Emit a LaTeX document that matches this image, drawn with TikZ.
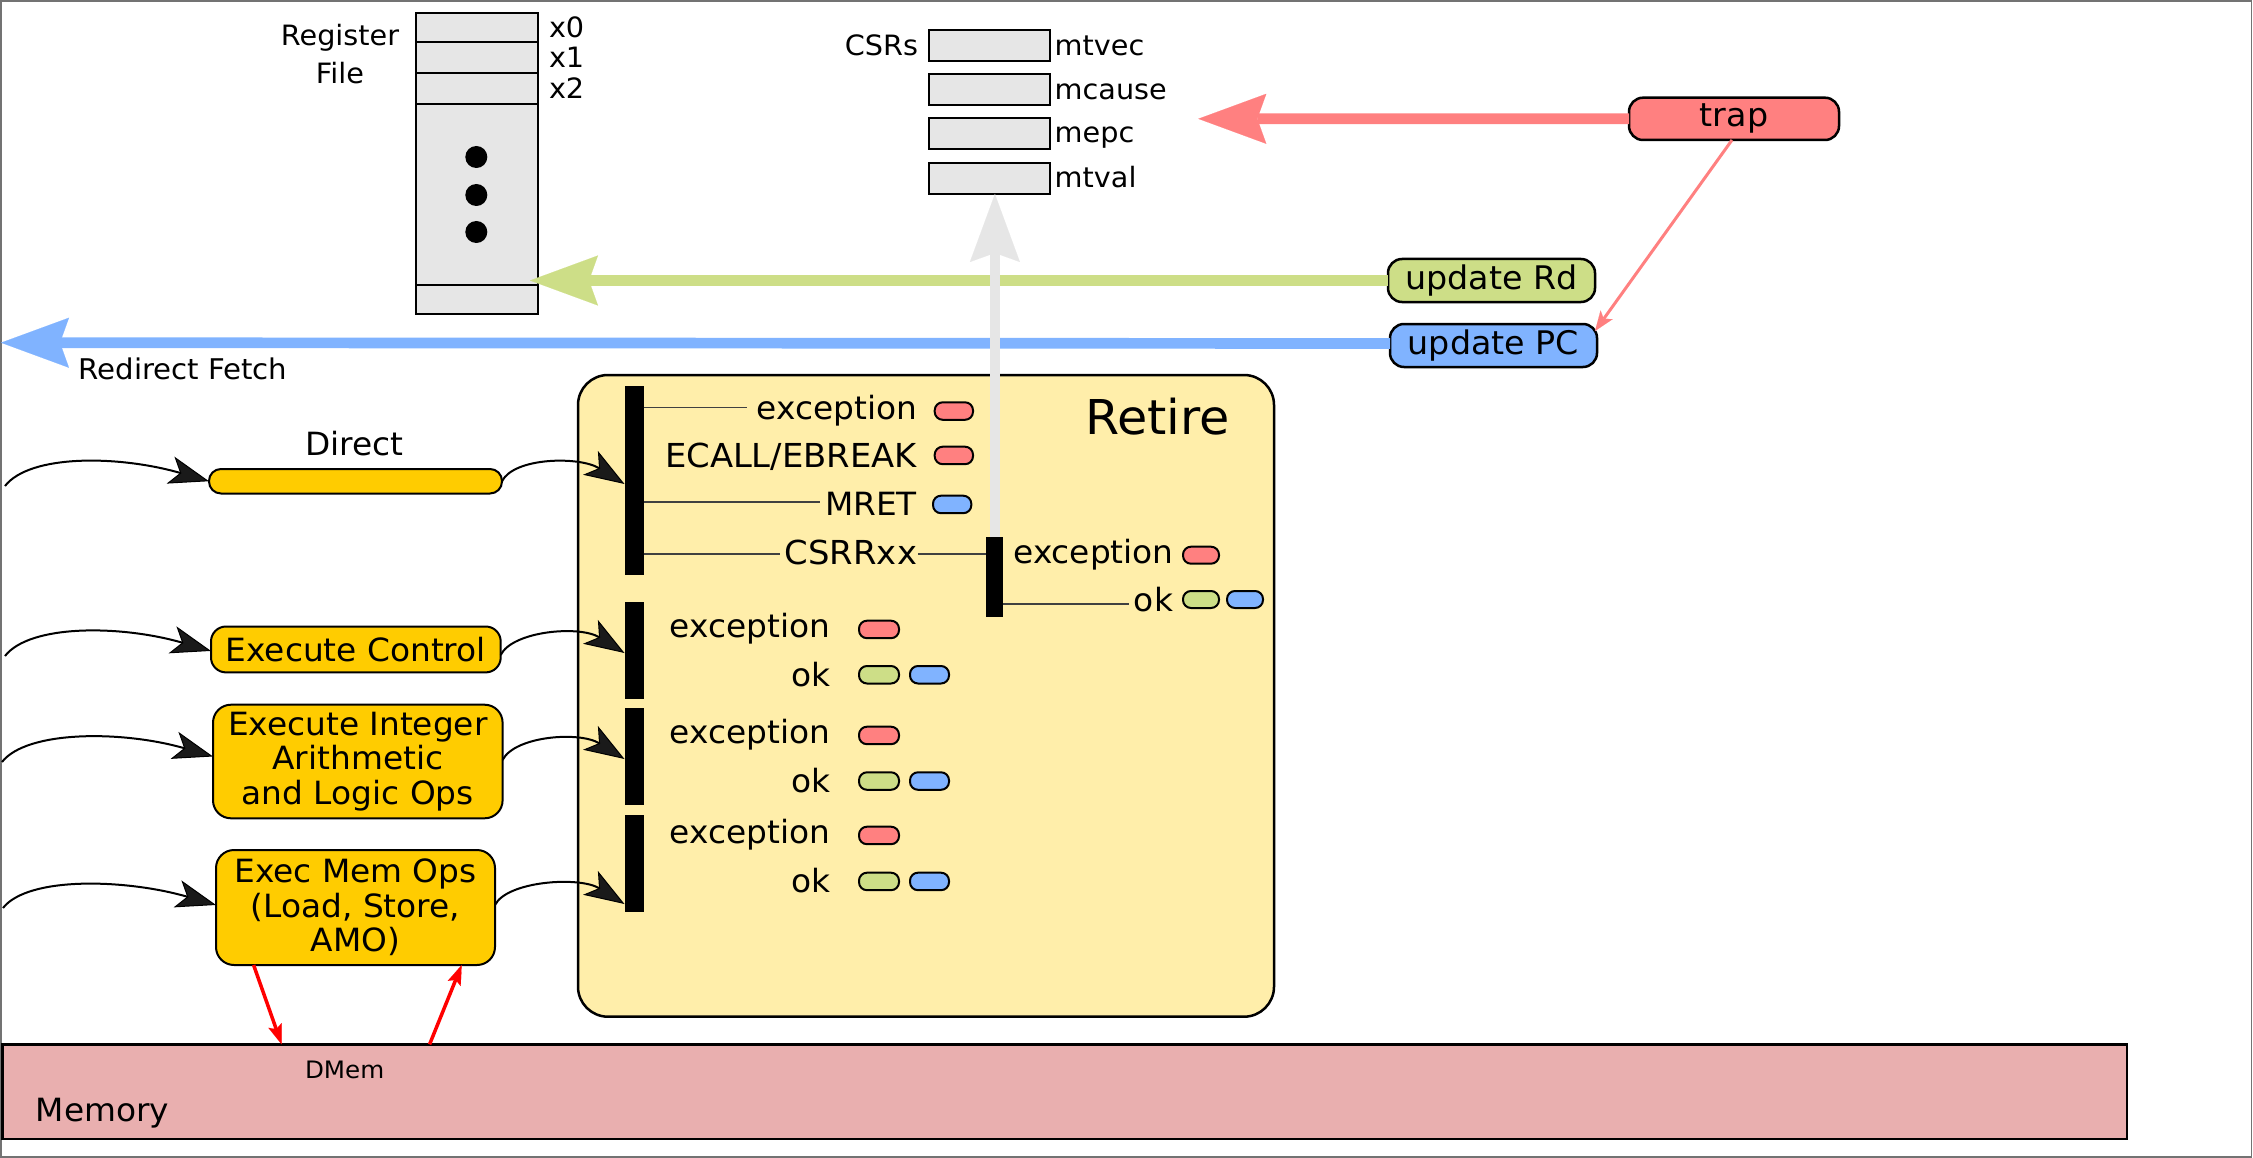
\documentclass[tikz,border=0pt]{standalone}
\usepackage{fontspec}
\setmainfont{DejaVu Sans}[FakeStretch=1.025]
\usetikzlibrary{arrows.meta,calc}
\definecolor{cred}{HTML}{FF8080}
\definecolor{cgreen}{HTML}{CDDE87}
\definecolor{cblue}{HTML}{80B3FF}
\definecolor{cyellow}{HTML}{FFCC00}
\definecolor{cretire}{HTML}{FFEEAA}
\definecolor{cmem}{HTML}{E9AFAF}
\definecolor{cgray}{HTML}{E6E6E6}
\definecolor{cdark}{HTML}{1A1A1A}
\begin{document}
\begin{tikzpicture}[x=1pt,y=-1pt,
  box/.style={draw=black, line width=2pt, inner sep=0pt, outer sep=0pt, anchor=north west},
  regbox/.style={box, fill=cgray},
  pill/.style={box, rounded corners=8pt, minimum width=39pt, minimum height=17.5pt},
  redpill/.style={pill, fill=cred},
  greenpill/.style={pill, fill=cgreen},
  bluepill/.style={pill, fill=cblue},
  ybox/.style={box, fill=cyellow, rounded corners=18pt, align=center, font=\fontsize{32}{34.5}\selectfont},
  tag/.style={box, rounded corners=14pt, line width=2.5pt, font=\fontsize{32.5}{38}\selectfont},
  bar/.style={fill=black, draw=none, inner sep=0pt, outer sep=0pt, anchor=north west},
  lbl/.style={inner sep=0pt, outer sep=0pt, font=\fontsize{32}{38}\selectfont},
  small/.style={inner sep=0pt, outer sep=0pt, font=\fontsize{28}{37.5}\selectfont},
  bigarrow/.style={line width=10.7pt, -{Stealth[length=68pt,width=50pt,inset=9pt,line width=0.1pt]}},
  curvearrow/.style={draw=black, line width=2pt, -{Stealth[length=40pt,width=28pt,inset=10pt,line width=1pt,fill=cdark]}},
  thinline/.style={draw=black!75, line width=1.5pt},
  memarrow/.style={draw=red, line width=3.5pt, -{Stealth[length=20pt,width=14pt,inset=4pt,line width=0.1pt]}}
]
\useasboundingbox (0,0) rectangle (2253,1158);
\draw[black!55, line width=1.5pt] (1,1) rectangle (2251.5,1157);

% ---------- Register file ----------
\node[regbox, minimum width=122.3pt, minimum height=300.7pt] (regfile) at (415.7,13.3) {};
\foreach \yy in {41.7,72.7,104.3,285} \draw[line width=2pt] (regfile.west |- 0,\yy) -- (regfile.east |- 0,\yy);
\foreach \yy in {157,195,232} \fill (476.3,\yy) circle[radius=11pt];
\node[small, align=center] (regtitle) at (340,54.1) {Register\\File};
\node[small, anchor=base west] (x0) at (549,37.3) {x0};
\node[small, anchor=base west] (x1) at (549,67.8) {x1};
\node[small, anchor=base west] (x2) at (549,98.3) {x2};

% ---------- CSRs ----------
\node[regbox, minimum width=121.3pt, minimum height=31pt] (csr1) at (928.7,30) {};
\node[regbox, minimum width=121.3pt, minimum height=31pt] (csr2) at (928.7,74) {};
\node[regbox, minimum width=121.3pt, minimum height=31pt] (csr3) at (928.7,118) {};
\node[regbox, minimum width=121.3pt, minimum height=31pt] (csr4) at (928.7,163) {};
\node[small, anchor=base east] (csrs) at (918,56) {CSRs};
\node[small, anchor=base west] (mtvec) at (1054.7,56) {mtvec};
\node[small, anchor=base west] (mcause) at (1054.7,99.5) {mcause};
\node[small, anchor=base west] (mepc) at (1054.7,143) {mepc};
\node[small, anchor=base west] (mtval) at (1054.7,187.5) {mtval};

% ---------- trap / update ----------
\node[tag, fill=cred, minimum width=210pt, minimum height=42.3pt] (trap) at (1629,97.7) {trap};
\node[tag, fill=cgreen, minimum width=207pt, minimum height=43pt] (updrd) at (1388,259) {update Rd};
\node[tag, fill=cblue, minimum width=207pt, minimum height=43pt] (updpc) at (1390,324) {update PC};
\coordinate (csrtip) at (1198.3,118.8);
\coordinate (fetchtip) at (1,342.7);
\draw[bigarrow, draw=cred, color=cred] (trap.west) -- (csrtip);
\draw[bigarrow, draw=cgreen, color=cgreen] (updrd.west) -- ([xshift=-8pt]regfile.east |- updrd.west);
\draw[bigarrow, draw=cblue, color=cblue] ([yshift=2pt]updpc.west) -- (fetchtip);
\draw[draw=cred, color=cred, line width=3pt, -{Stealth[length=20pt,width=15pt,inset=5pt,line width=0.1pt]}]
  ([xshift=-2pt]trap.south) -- ($(updpc.north east)+(-2,7)$);
\node[lbl, anchor=base west, font=\fontsize{28.5}{34}\selectfont] (fetchlbl) at (78.5,379.3) {Redirect Fetch};

% ---------- Retire ----------
\node[box, fill=cretire, line width=2.5pt, rounded corners=30pt, minimum width=696pt, minimum height=641.7pt] (retire) at (578,375) {};
\node[lbl, anchor=base west, font=\fontsize{48}{56}\selectfont] (retirelbl) at (1085,434) {Retire};

\node[bar, minimum width=19pt, minimum height=189pt] (bar1) at (624.5,386) {};
\node[bar, minimum width=19pt, minimum height=97pt] (bar2) at (624.5,602) {};
\node[bar, minimum width=19pt, minimum height=97pt] (bar3) at (624.5,708) {};
\node[bar, minimum width=19pt, minimum height=97pt] (bar4) at (624.5,815) {};
\node[bar, minimum width=17pt, minimum height=80pt] (subbar) at (986.4,537) {};

% first group
\node[lbl, anchor=base east] (exc1) at (917,419) {exception};
\node[lbl, anchor=base east, font=\fontsize{33}{38}\selectfont] (ecall) at (917,467) {ECALL/EBREAK};
\node[lbl, anchor=base east] (mret) at (917,515.7) {MRET};
\node[lbl, anchor=base east, font=\fontsize{33}{38}\selectfont] (csrr) at (917,564) {CSRRxx};
\node[redpill, minimum width=38.3pt] (p1) at (934.7,402.3) {};
\node[redpill, minimum width=38.3pt] (p2) at (934.7,446.7) {};
\node[bluepill, minimum width=38.3pt] (p3) at (933,495.7) {};
\draw[thinline] (bar1.east |- 0,407.5) -- ([xshift=-10pt]exc1.west |- 0,407.5);
\draw[thinline] (bar1.east |- 0,502) -- ([xshift=-5pt]mret.west |- 0,502);
\draw[thinline] (bar1.east |- 0,554) -- ([xshift=-5pt]csrr.west |- 0,554);
\draw[thinline] ([xshift=1pt]csrr.east |- 0,554) -- (subbar.west |- 0,554);

% CSR sub group
\node[lbl, anchor=base west] (excS) at (1013.4,563) {exception};
\node[lbl, anchor=base east] (okS) at (1173,611) {ok};
\node[redpill, minimum width=36pt, minimum height=17pt] (p4) at (1183,546.7) {};
\node[greenpill, minimum width=36pt, minimum height=17pt] (p5) at (1183,591) {};
\node[bluepill, minimum width=36pt, minimum height=17pt] (p6) at (1227,591) {};
\draw[thinline] (subbar.east |- 0,604) -- ([xshift=-5pt]okS.west |- 0,604);

% lower groups
\node[lbl, anchor=base east] (exc2) at (830,637) {exception};
\node[lbl, anchor=base east] (ok2) at (830.6,686) {ok};
\node[redpill, minimum width=40pt] (p7) at (859,620.7) {};
\node[greenpill, minimum width=40pt] (p8) at (859,666) {};
\node[bluepill, minimum width=39pt] (p9) at (910,666) {};
\node[lbl, anchor=base east] (exc3) at (830,743.5) {exception};
\node[lbl, anchor=base east] (ok3) at (830.6,792.5) {ok};
\node[redpill, minimum width=40pt] (p10) at (859,726.7) {};
\node[greenpill, minimum width=40pt] (p11) at (859,772.3) {};
\node[bluepill, minimum width=39pt] (p12) at (910,772.3) {};
\node[lbl, anchor=base east] (exc4) at (830,843.5) {exception};
\node[lbl, anchor=base east] (ok4) at (830.6,892.7) {ok};
\node[redpill, minimum width=40pt] (p13) at (859,826.7) {};
\node[greenpill, minimum width=40pt] (p14) at (859,872.7) {};
\node[bluepill, minimum width=39pt] (p15) at (910,872.7) {};

% gray arrow to CSRs (on top)
\draw[bigarrow, draw=cgray, color=cgray] (subbar.north) -- (subbar.north |- csr4.south);

% ---------- functional units ----------
\node[box, fill=cyellow, rounded corners=12pt, minimum width=293pt, minimum height=24.5pt] (direct) at (209,469) {};
\node[lbl, anchor=base] (directlbl) at (354.7,455) {Direct};
\node[ybox, rounded corners=15pt, minimum width=289.7pt, minimum height=45.9pt] (ectrl) at (211,626.5) {Execute Control};
\node[ybox, minimum width=289.6pt, minimum height=113.6pt] (eint) at (213,704.7) {Execute Integer\\ Arithmetic\\and Logic Ops};
\node[ybox, minimum width=279pt, minimum height=115pt] (emem) at (216,850) {Exec Mem Ops\\(Load, Store,\\AMO)};

\coordinate (in1) at (5,486);
\coordinate (in2) at (5,656);
\coordinate (in3) at (2,762);
\coordinate (in4) at (3,908);
\draw[curvearrow] (in1) .. controls +(25,-32) and +(-90,-26) .. (direct.west);
\draw[curvearrow] (in2) .. controls +(25,-32) and +(-90,-26) .. ([yshift=-1.5pt]ectrl.west);
\draw[curvearrow] (in3) .. controls +(25,-32) and +(-90,-26) .. ([yshift=5pt]eint.west);
\draw[curvearrow] (in4) .. controls +(25,-32) and +(-90,-26) .. ([yshift=2.5pt]emem.west);

\draw[curvearrow] (direct.east) .. controls +(12,-24) and +(-45,-28) .. (bar1.west |- 0,484);
\draw[curvearrow] ([yshift=-5.5pt]ectrl.east) .. controls +(12,-24) and +(-45,-28) .. (bar2.west |- 0,653);
\draw[curvearrow] ([yshift=1.5pt]eint.east) .. controls +(12,-24) and +(-45,-28) .. (bar3.west |- 0,759);
\draw[curvearrow] ([yshift=2.5pt]emem.east) .. controls +(12,-24) and +(-45,-28) .. (bar4.west |- 0,904);

% ---------- Memory ----------
\node[box, fill=cmem, line width=2.5pt, minimum width=2124.5pt, minimum height=94.7pt] (memory) at (2.5,1044.3) {};
\node[lbl, anchor=base west, font=\fontsize{24}{28}\selectfont] (dmem) at (305,1078.7) {DMem};
\node[lbl, anchor=base west] (memlbl) at (35.7,1121.7) {Memory};
\draw[memarrow] ([xshift=37.6pt]emem.south west) -- (281.6,0 |- memory.north);
\draw[memarrow] (429.6,0 |- memory.north) -- ([xshift=245.7pt]emem.south west);
\end{tikzpicture}
\end{document}
